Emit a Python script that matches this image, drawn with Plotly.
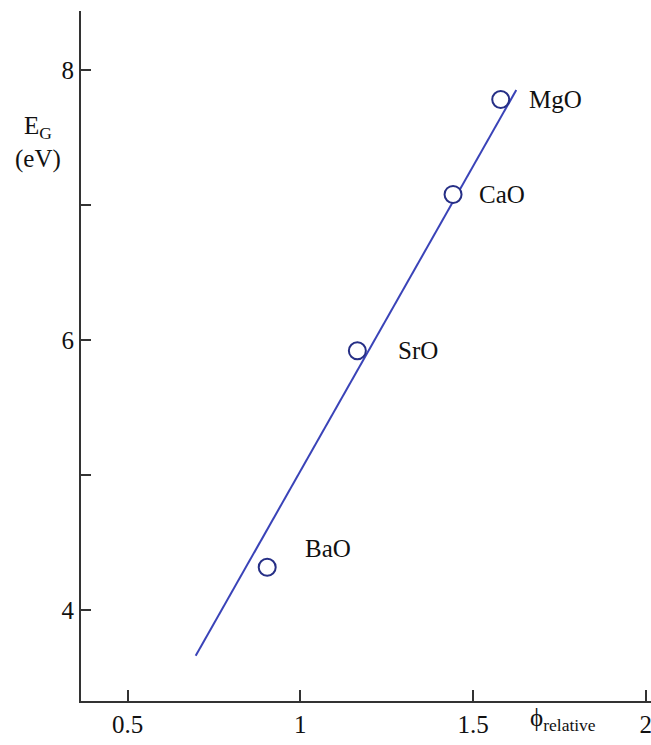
import plotly.graph_objects as go

# data
compounds = ["BaO", "SrO", "CaO", "MgO"]
phi_relative = [0.904, 1.165, 1.442, 1.580]
band_gap = [4.316, 5.919, 7.077, 7.78]
fit_phi = [0.697, 1.625]
fit_gap = [3.661, 7.85]
label_dx = [0.175, 0.175, 0.141, 0.159]
label_dy = [0.136, 0.0, 0.0, 0.0]
y_ticks = [4, 5, 6, 7, 8]
y_ticktext = ["4", "", "6", "", "8"]
x_ticks = [0.5, 1, 1.5, 2]
x_ticktext = ["0.5", "1", "1.5", "2"]

serif = "Liberation Serif, Times New Roman, serif"

fig = go.Figure()
fig.add_trace(go.Scatter(x=fit_phi, y=fit_gap, mode="lines",
                         line=dict(color="#3a43b8", width=2), hoverinfo="skip"))
fig.add_trace(go.Scatter(x=phi_relative, y=band_gap, mode="markers",
                         marker=dict(size=17, color="white", symbol="circle",
                                     line=dict(color="#262f86", width=2)),
                         hoverinfo="skip"))

for c, x, y, dx, dy in zip(compounds, phi_relative, band_gap, label_dx, label_dy):
    fig.add_annotation(x=x + dx, y=y + dy, text=c, showarrow=False,
                       xanchor="center", yanchor="middle",
                       font=dict(family=serif, size=25, color="#111"))

fig.add_annotation(xref="paper", yref="paper", x=-0.0754, y=0.809,
                   text="E<sub>G</sub><br>(eV)", showarrow=False,
                   xanchor="center", yanchor="middle", align="center",
                   font=dict(family=serif, size=25, color="#111"))
fig.add_annotation(xref="paper", yref="paper", x=0.845, y=-0.002,
                   text="ϕ<sub>relative</sub>", showarrow=False,
                   xanchor="center", yanchor="top",
                   font=dict(family=serif, size=25, color="#111"))

fig.update_layout(
    width=651, height=745,
    margin=dict(l=81, r=0, t=11, b=44),
    plot_bgcolor="white", paper_bgcolor="white",
    showlegend=False,
    xaxis=dict(range=[0.365, 2.015], tickvals=x_ticks, ticktext=x_ticktext,
               ticks="inside", ticklen=11, tickwidth=2, tickcolor="#333",
               showline=True, linecolor="#333", linewidth=2,
               showgrid=False, zeroline=False, ticklabelstandoff=0,
               ticklabeloverflow="allow",
               tickfont=dict(family=serif, size=25, color="#111")),
    yaxis=dict(range=[3.326, 8.435], tickvals=y_ticks, ticktext=y_ticktext,
               ticks="inside", ticklen=10, tickwidth=2, tickcolor="#333",
               showline=True, linecolor="#333", linewidth=2,
               showgrid=False, zeroline=False,
               tickfont=dict(family=serif, size=25, color="#111")),
)

fig.write_html("out.html", config={"displayModeBar": False},
               post_script="document.body.style.margin='0';document.body.style.overflow='hidden';")
